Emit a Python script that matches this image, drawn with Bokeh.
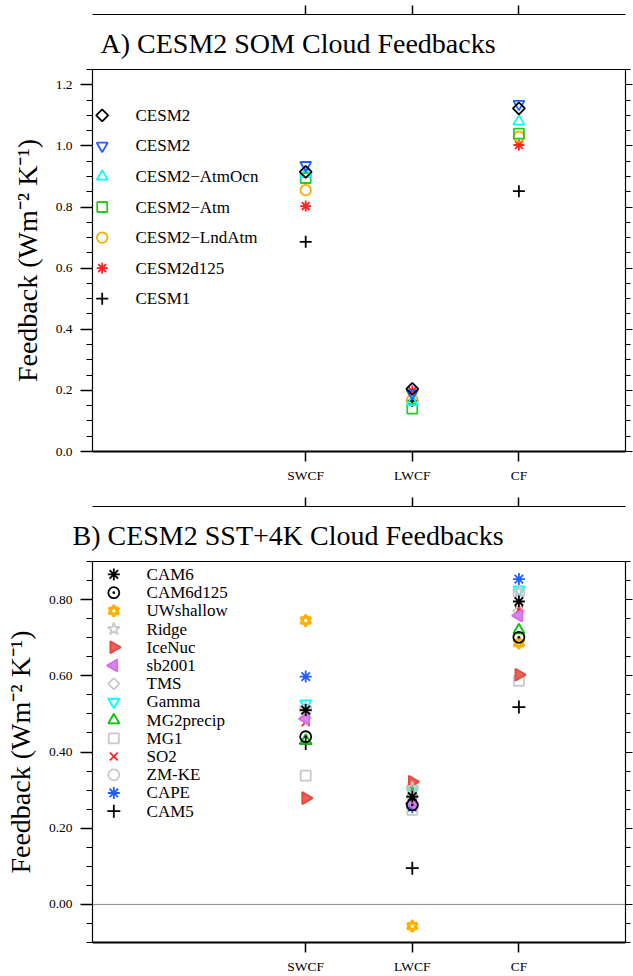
import math
from bokeh.plotting import figure
from bokeh.models import (LinearAxis, FixedTicker, Range1d, Span, NumeralTickFormatter,
                          CustomJSTickFormatter, Title)
from bokeh.core.properties import value
from bokeh.layouts import column
from bokeh.embed import file_html
from bokeh.resources import INLINE

FONT = "Liberation Serif"

categories = ["SWCF", "LWCF", "CF"]

# ---- Panel A: CESM2 SOM cloud feedbacks (SWCF, LWCF, CF) ----
som_labels = ["CESM2", "CESM2", "CESM2−AtmOcn", "CESM2−Atm", "CESM2−LndAtm", "CESM2d125", "CESM1"]
som_cesm2 = [0.915, 0.205, 1.123]
som_cesm2_b = [0.937, 0.190, 1.137]
som_atmocn = [0.908, 0.162, 1.080]
som_atm = [0.895, 0.140, 1.040]
som_lndatm = [0.855, 0.169, 1.030]
som_cesm2d125 = [0.803, 0.198, 1.003]
som_cesm1 = [0.686, 0.166, 0.852]
som_values = [som_cesm2, som_cesm2_b, som_atmocn, som_atm, som_lndatm, som_cesm2d125, som_cesm1]
som_ticks = [0.0, 0.2, 0.4, 0.6, 0.8, 1.0, 1.2]

# ---- Panel B: CESM2 SST+4K cloud feedbacks (SWCF, LWCF, CF) ----
sst_labels = ["CAM6", "CAM6d125", "UWshallow", "Ridge", "IceNuc", "sb2001", "TMS",
              "Gamma", "MG2precip", "MG1", "SO2", "ZM-KE", "CAPE", "CAM5"]
sst_cam6 = [0.510, 0.283, 0.795]
sst_cam6d125 = [0.440, 0.261, 0.701]
sst_uwshallow = [0.745, -0.057, 0.686]
sst_ridge = [0.515, 0.305, 0.820]
sst_icenuc = [0.279, 0.322, 0.603]
sst_sb2001 = [0.487, 0.265, 0.758]
sst_tms = [0.490, 0.280, 0.770]
sst_gamma = [0.527, 0.300, 0.826]
sst_mg2precip = [0.430, 0.290, 0.720]
sst_mg1 = [0.338, 0.248, 0.587]
sst_so2 = [0.478, 0.295, 0.773]
sst_zmke = [0.510, 0.305, 0.815]
sst_cape = [0.598, 0.255, 0.854]
sst_cam5 = [0.422, 0.095, 0.518]
sst_values = [sst_cam6, sst_cam6d125, sst_uwshallow, sst_ridge, sst_icenuc, sst_sb2001, sst_tms,
              sst_gamma, sst_mg2precip, sst_mg1, sst_so2, sst_zmke, sst_cape, sst_cam5]
sst_ticks = [0.0, 0.2, 0.4, 0.6, 0.8]

BLUE = "#1E60FF"
GRAY = "#C8C8C8"
som_styles = [
    dict(markers=["square"], color="black", fill=None, size=8.5, angle=math.pi / 4),
    dict(markers=["inverted_triangle"], color=BLUE, fill=None, size=11),
    dict(markers=["triangle"], color="#00FFFF", fill=None, size=11),
    dict(markers=["square"], color="#22CC22", fill=None, size=10),
    dict(markers=["circle"], color="#FFAA00", fill=None, size=10.5),
    dict(markers=["asterisk"], color="#FF2020", fill=None, size=11),
    dict(markers=["cross"], color="black", fill=None, size=12),
]
sst_styles = [
    dict(markers=["asterisk"], color="black", fill=None, size=12),
    dict(markers=["circle_dot"], color="black", fill=None, size=11),
    dict(markers=["triangle", "inverted_triangle"], color="#FFB000", fill=None, size=10, lw=2.6),
    dict(markers=["star"], color=GRAY, fill=None, size=13),
    dict(markers=["triangle"], color="#E5483C", fill="#E8605A", size=12, angle=-math.pi / 2),
    dict(markers=["triangle"], color="#D46BEA", fill="#D884EE", size=12, angle=math.pi / 2),
    dict(markers=["square"], color=GRAY, fill=None, size=8, angle=math.pi / 4),
    dict(markers=["inverted_triangle"], color="#00FFFF", fill=None, size=11),
    dict(markers=["triangle"], color="#00C800", fill=None, size=11),
    dict(markers=["square"], color=GRAY, fill=None, size=10),
    dict(markers=["x"], color="#FF2020", fill=None, size=11),
    dict(markers=["circle"], color=GRAY, fill=None, size=11),
    dict(markers=["asterisk"], color=BLUE, fill=None, size=12),
    dict(markers=["cross"], color="black", fill=None, size=13),
]

xpos = [i + 1 for i in range(len(categories))]


def make_panel(title, title_offset, height, top, bottom, ticks, fmt, ymin, ymax,
               labels, values, styles, leg, zero_line):
    p = figure(width=633, height=height, output_backend="svg", toolbar_location=None,
               x_range=Range1d(-1, 4), y_range=Range1d(ymin, ymax), title_location=None,
               min_border_left=92, min_border_right=8, min_border_top=top,
               min_border_bottom=bottom)
    p.xgrid.visible = False
    p.ygrid.visible = False
    p.outline_line_color = "black"
    p.outline_line_width = 1.2
    p.background_fill_color = "white"
    p.border_fill_color = "white"

    minor = []
    k = 0
    while True:
        v = round(ymin + k * 0.05, 4)
        if v > ymax + 1e-9:
            break
        if all(abs(v - t) > 1e-6 for t in ticks):
            minor.append(v)
        k += 1

    # x axis
    xa = p.xaxis[0]
    xa.ticker = FixedTicker(ticks=xpos, minor_ticks=[])
    xa.major_label_overrides = {x: c for x, c in zip(xpos, categories)}
    xa.major_label_text_font = FONT
    xa.major_label_text_font_size = "13.5px"
    xa.major_label_text_color = "black"
    xa.major_tick_in = 0
    xa.major_tick_out = 10
    xa.major_label_standoff = 6
    xa.axis_line_width = 2
    xa.major_tick_line_width = 1.5

    # y axis
    ya = p.yaxis[0]
    ya.ticker = FixedTicker(ticks=ticks, minor_ticks=minor)
    ya.formatter = NumeralTickFormatter(format=fmt)
    ya.major_label_text_font = FONT
    ya.major_label_text_font_size = "13.5px"
    ya.major_label_text_color = "black"
    ya.major_tick_in = 0
    ya.major_tick_out = 12
    ya.minor_tick_in = 0
    ya.minor_tick_out = 6
    ya.major_label_standoff = 8
    ya.axis_label = "Feedback (Wm⁻² K⁻¹)"
    ya.axis_label_text_font = FONT
    ya.axis_label_text_font_size = "28px"
    ya.axis_label_text_font_style = "normal"
    ya.axis_label_text_color = "black"
    ya.axis_label_standoff = 10
    ya.major_tick_line_width = 1.5

    blank = CustomJSTickFormatter(code="return ''")
    # right axis: tick marks only
    ra = LinearAxis(ticker=FixedTicker(ticks=ticks, minor_ticks=minor), formatter=blank,
                    major_label_text_font_size="1px",
                    major_tick_in=0, major_tick_out=7,
                    minor_tick_in=0, minor_tick_out=5, major_label_standoff=0)
    p.add_layout(ra, "right")
    # title first, then the top tick axis, so the ticks sit against the frame
    t = Title(text=title, text_font=FONT, text_font_size="28px", text_font_style="normal",
              text_color="black", align="left", offset=title_offset, standoff=22)
    p.add_layout(t, "above")
    ta = LinearAxis(ticker=FixedTicker(ticks=xpos, minor_ticks=[]), formatter=blank,
                    major_label_text_font_size="1px",
                    major_tick_in=0, major_tick_out=9,
                    minor_tick_in=0, minor_tick_out=0, major_label_standoff=0,
                    major_tick_line_width=1.5)
    p.add_layout(ta, "above")

    if zero_line:
        p.add_layout(Span(location=0, dimension="width", line_color="#888888", line_width=1))

    # data markers (drawn last-to-first so the first series lies on top)
    for i in reversed(range(len(labels))):
        st = styles[i]
        for m in st["markers"]:
            p.scatter(x=xpos, y=values[i], marker=m, size=st["size"],
                      line_color=st["color"], fill_color=st["fill"],
                      line_width=st.get("lw", 1.8), angle=st.get("angle", 0))

    # key: one row per series, laid out from the top of the key downwards
    mx, tx, y0, dy = leg
    n = len(labels)
    rows = [y0 - dy * j for j in range(n)]
    for j in range(n):
        st = styles[j]
        for m in st["markers"]:
            p.scatter(x=[mx], y=[rows[j]], marker=m, size=st["size"],
                      line_color=st["color"], fill_color=st["fill"],
                      line_width=st.get("lw", 1.8), angle=st.get("angle", 0))
    p.text(x=[tx] * n, y=rows, text=labels, text_font=value(FONT), text_font_size="17px",
           text_baseline="middle", text_align="left", text_color="black")
    return p


pa = make_panel("A) CESM2 SOM Cloud Feedbacks", 8, 490, 69, 39, som_ticks, "0.0", 0.0, 1.25,
                som_labels, som_values, som_styles, (-0.909, -0.597, 1.1, 0.1), False)
pb = make_panel("B) CESM2 SST+4K Cloud Feedbacks", -20, 486, 71, 33, sst_ticks, "0.00", -0.1, 0.9,
                sst_labels, sst_values, sst_styles, (-0.80, -0.493, 0.866, 0.0478), True)

layout = column(pa, pb, spacing=0)
open("out.html", "w").write(file_html(layout, INLINE))
